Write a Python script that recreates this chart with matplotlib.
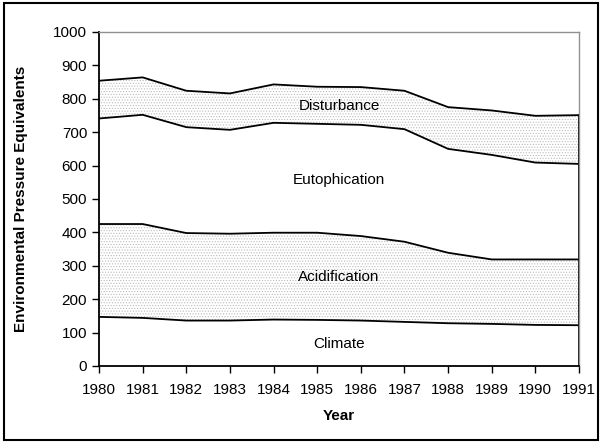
import numpy as np
import matplotlib.pyplot as plt
from matplotlib.patches import Rectangle

plt.rcParams['font.family'] = ['Liberation Sans', 'DejaVu Sans']
plt.rcParams['hatch.color'] = '#bcbcbc'
plt.rcParams['hatch.linewidth'] = 0.5

years = [1980, 1981, 1982, 1983, 1984, 1985, 1986, 1987, 1988, 1989, 1990, 1991]
climate = [147, 144, 136, 136, 139, 138, 136, 132, 128, 126, 123, 122]
acidification = [278, 281, 262, 260, 260, 261, 253, 240, 211, 193, 196, 197]
eutrophication = [316, 327, 317, 311, 329, 326, 333, 337, 311, 313, 290, 286]
disturbance = [113, 112, 109, 109, 115, 111, 113, 115, 125, 133, 140, 146]
names = ['Climate', 'Acidification', 'Eutophication', 'Disturbance']
label_y = [66, 266, 557, 779]

fig = plt.figure(figsize=(6.02, 4.44), dpi=100)
ax = fig.add_axes([0.1645, 0.1757, 0.7973, 0.7523])

layers = [climate, acidification, eutrophication, disturbance]
x = np.array(years)
base = np.zeros(len(years))
for i, vals in enumerate(layers):
    top = base + np.array(vals)
    ax.fill_between(x, base, top, facecolor='white',
                    hatch='......' if i % 2 == 1 else None,
                    edgecolor='#bcbcbc', linewidth=0)
    ax.plot(x, top, color='black', lw=1.3)
    ax.text(1985.5, label_y[i], names[i], ha='center', va='center', fontsize=11)
    base = top

ax.plot([1991, 1991], [0, base[-1]], color='black', lw=1.3)

ax.set_xlim(1980, 1991)
ax.set_ylim(0, 1000)
ax.set_xticks(years)
ax.set_yticks(range(0, 1001, 100))
ax.tick_params(labelsize=11, length=5, width=1, direction='out')
ax.tick_params(axis='x', pad=7)
for s in ['top', 'right']:
    ax.spines[s].set_color('#909090')
    ax.spines[s].set_linewidth(1)
for s in ['left', 'bottom']:
    ax.spines[s].set_linewidth(1.3)

ax.set_xlabel('Year', fontsize=11, fontweight='bold', labelpad=9)
ax.set_ylabel('Environmental Pressure Equivalents', fontsize=11, fontweight='bold', labelpad=18)

fig.patches.append(Rectangle((0.006, 0.008), 0.988, 0.986, transform=fig.transFigure,
                             fill=False, edgecolor='black', linewidth=1.5))

fig.savefig('out.png', dpi=100)
